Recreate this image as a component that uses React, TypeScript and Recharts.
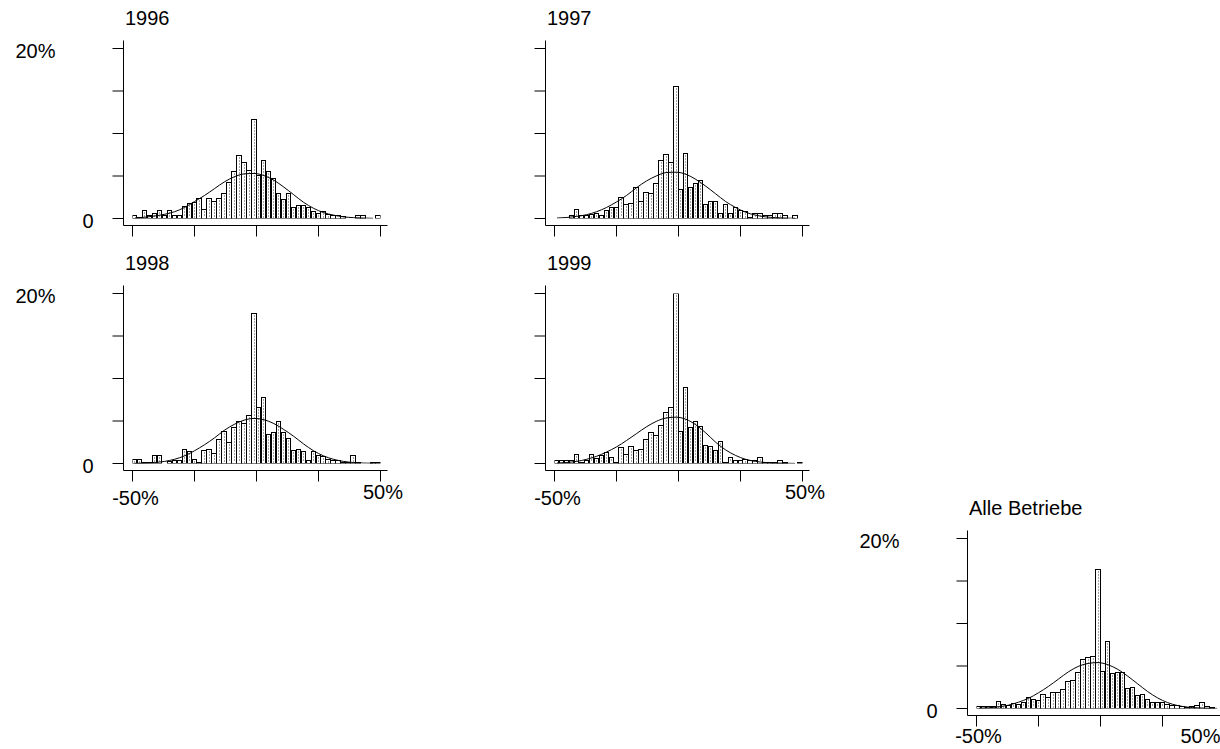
import { ComposedChart, Bar, Line, XAxis, YAxis } from 'recharts';

// centres of the 2%-wide classes between -50% and +50%
const binCenters = [
  -49, -47, -45, -43, -41, -39, -37, -35, -33, -31,
  -29, -27, -25, -23, -21, -19, -17, -15, -13, -11,
  -9, -7, -5, -3, -1, 1, 3, 5, 7, 9,
  11, 13, 15, 17, 19, 21, 23, 25, 27, 29,
  31, 33, 35, 37, 39, 41, 43, 45, 47, 49,
];

const curveX = [-49, -45, -41, -37, -33, -29, -25, -21, -17, -13, -9, -5, -1, 3, 7, 11, 15, 19, 23, 27, 31, 35, 39, 43, 47];

const xTicks = [-50, -25, 0, 25, 50];
const yTicks = [0, 5, 10, 15, 20];

// share of firms per class, in %
const share1996 = [
  0.3, 0.1, 0.9, 0.3, 0.6, 0.9, 0.4, 0.9, 0.4, 0.4,
  1.4, 1.8, 1.9, 2.4, 1.1, 2.3, 2.0, 2.3, 2.9, 4.2,
  5.5, 7.4, 6.6, 5.7, 11.7, 5.1, 6.8, 5.5, 4.7, 2.9,
  2.2, 3.0, 1.3, 1.5, 1.5, 1.3, 0.8, 0.6, 0.8, 0.5,
  0.3, 0.3, 0.2, 0, 0, 0.4, 0.4, 0, 0, 0.3,
];
const share1997 = [
  0, 0, 0, 0.4, 1.1, 0.3, 0.3, 0.45, 0.6, 0.3,
  0.9, 1.3, 1.3, 2.5, 1.6, 1.8, 3.6, 2.0, 3.1, 3.0,
  4.1, 6.8, 7.5, 6.6, 15.5, 3.4, 7.7, 3.6, 4.1, 4.5,
  1.6, 2.0, 2.0, 0.6, 1.6, 0.6, 1.3, 0.9, 0.8, 0.05,
  0.6, 0.6, 0.3, 0.3, 0.6, 0.6, 0.3, 0, 0.3, 0,
];
const share1998 = [
  0.5, 0.5, 0.1, 0.15, 0.9, 1.0, 0, 0.2, 0.4, 0.4,
  1.7, 1.4, 0.5, 0.1, 1.5, 1.7, 1.2, 2.8, 3.8, 2.5,
  4.2, 4.9, 4.7, 5.7, 17.6, 6.6, 7.8, 3.4, 3.6, 5.0,
  3.6, 2.9, 1.5, 1.7, 1.4, 0.4, 1.4, 0.9, 0.8, 0.5,
  0.3, 0.3, 0.15, 0.15, 1.0, 0.15, 0, 0, 0.15, 0.15,
];
const share1999 = [
  0.4, 0.4, 0.4, 0.4, 1.1, 0.15, 0.4, 1.1, 0.6, 0.9,
  1.3, 0.7, 0.1, 1.9, 1.1, 2.0, 1.5, 1.7, 2.8, 3.7,
  3.3, 4.5, 6.0, 6.6, 20.0, 3.8, 9.0, 4.2, 4.9, 4.3,
  2.1, 2.0, 1.5, 2.6, 0.1, 0.7, 0.4, 0.4, 0.5, 0.4,
  0.3, 0.7, 0.1, 0.05, 0.1, 0.4, 0.1, 0, 0, 0.1,
];
const shareAlle = [
  0.25, 0.25, 0.25, 0.25, 0.85, 0.5, 0.3, 0.6, 0.5, 0.7,
  1.3, 1.1, 1.0, 1.7, 1.3, 1.9, 1.9, 2.2, 3.2, 3.3,
  4.2, 5.8, 6.0, 6.1, 16.3, 4.4, 7.9, 4.1, 4.2, 4.2,
  2.4, 2.5, 1.5, 1.6, 1.1, 0.65, 0.65, 0.65, 0.5, 0.35,
  0.35, 0.2, 0.1, 0.2, 0.3, 0.65, 0.25, 0.05, 0, 0,
];

// fitted normal density, read at curveX
const curve1996 = [0.05, 0.15, 0.3, 0.5, 0.8, 1.3, 2.0, 2.7, 3.5, 4.3, 4.9, 5.25, 5.3, 5.05, 4.5, 3.7, 2.8, 1.9, 1.2, 0.7, 0.4, 0.2, 0.1, 0.05, 0.02];
const curve1997 = [0.05, 0.12, 0.25, 0.45, 0.8, 1.3, 1.95, 2.7, 3.6, 4.4, 5.0, 5.4, 5.45, 5.2, 4.6, 3.8, 2.9, 2.0, 1.3, 0.75, 0.4, 0.2, 0.1, 0.05, 0.02];
const curve1998 = [0.02, 0.05, 0.12, 0.25, 0.5, 0.9, 1.5, 2.2, 3.0, 3.9, 4.6, 5.1, 5.3, 5.15, 4.7, 4.0, 3.2, 2.3, 1.5, 0.9, 0.5, 0.25, 0.12, 0.05, 0.02];
const curve1999 = [0.05, 0.12, 0.25, 0.5, 0.85, 1.35, 1.95, 2.7, 3.5, 4.3, 4.95, 5.35, 5.45, 5.2, 4.55, 3.6, 2.5, 1.6, 0.95, 0.5, 0.25, 0.12, 0.06, 0.03, 0.01];
const curveAlle = [0.03, 0.08, 0.2, 0.4, 0.75, 1.2, 1.85, 2.6, 3.45, 4.3, 4.95, 5.3, 5.4, 5.15, 4.6, 3.8, 2.9, 2.0, 1.25, 0.7, 0.35, 0.17, 0.08, 0.03, 0.01];

const FONT = '"Liberation Sans", Arial, Helvetica, sans-serif';

// layout of the 3x3 grid (only five cells used)
const COL_AXIS_X = [123, 545, 967];
const ROW_ZERO_Y = [218, 463, 708];
const AXIS_W = 120;
const TOP = 30;
const PLOT_W = 264;
const PLOT_H = 185;
const X_AXIS_H = 45;
const CHART_W = AXIS_W + PLOT_W + 40;
const CHART_H = TOP + PLOT_H + X_AXIS_H;
const BAR_PX = (PLOT_W - 9 - 7) / binCenters.length;

type XMode = 'none' | 'row' | 'alle';

const panels: { title: string; share: number[]; curve: number[]; col: number; row: number; yLabels: boolean; xMode: XMode }[] = [
  { title: '1996', share: share1996, curve: curve1996, col: 0, row: 0, yLabels: true, xMode: 'none' },
  { title: '1997', share: share1997, curve: curve1997, col: 1, row: 0, yLabels: false, xMode: 'none' },
  { title: '1998', share: share1998, curve: curve1998, col: 0, row: 1, yLabels: true, xMode: 'row' },
  { title: '1999', share: share1999, curve: curve1999, col: 1, row: 1, yLabels: false, xMode: 'row' },
  { title: 'Alle Betriebe', share: shareAlle, curve: curveAlle, col: 2, row: 2, yLabels: true, xMode: 'alle' },
];

const textStyle = { fontFamily: FONT, fontSize: 20, fill: '#000' };

// snap to pixel centres so 1px strokes stay crisp
const snap = (v: number) => Math.round(v - 0.5) + 0.5;

const HistBar = (props: any) => {
  const { x, y, width, height } = props;
  if (!height || height <= 0) return <g />;
  const left = snap(x);
  const right = snap(x + width);
  const top = snap(y);
  const bottom = snap(y + height);
  const dx = snap(left + (right - left) * 0.6);
  return (
    <g>
      <rect
        x={left}
        y={Math.min(top, bottom - 1)}
        width={right - left}
        height={Math.max(bottom - top, 1)}
        fill="#fff"
        stroke="#000"
        strokeWidth={1}
      />
      {bottom - top > 3 && (
        <line x1={dx} x2={dx} y1={top + 2} y2={bottom - 1} stroke="#444" strokeWidth={1} strokeDasharray="1 2" />
      )}
    </g>
  );
};

const makeYTick = (show: boolean) => (props: any) => {
  const { x, y, payload } = props;
  if (!show) return <g />;
  if (payload.value === 20) {
    return (
      <text x={x - 57} y={y + 9} textAnchor="end" {...textStyle}>
        20%
      </text>
    );
  }
  if (payload.value === 0) {
    return (
      <text x={x - 19} y={y + 9} textAnchor="end" {...textStyle}>
        0
      </text>
    );
  }
  return <g />;
};

const makeXTick = (mode: XMode) => (props: any) => {
  const { x, y, payload } = props;
  if (mode === 'row') {
    if (payload.value === -50)
      return (
        <text x={x + 3} y={y + 23} textAnchor="middle" {...textStyle}>
          -50%
        </text>
      );
    if (payload.value === 50)
      return (
        <text x={x + 2.5} y={y + 17} textAnchor="middle" {...textStyle}>
          50%
        </text>
      );
  }
  if (mode === 'alle') {
    if (payload.value === -50)
      return (
        <text x={x + 2} y={y + 16} textAnchor="middle" {...textStyle}>
          -50%
        </text>
      );
    if (payload.value === 50)
      return (
        <text x={x - 4} y={y + 16} textAnchor="end" {...textStyle}>
          50%
        </text>
      );
  }
  return <g />;
};

const Panel = ({ share, curve, yLabels, xMode }: { share: number[]; curve: number[]; yLabels: boolean; xMode: XMode }) => {
  const rows = binCenters.map((x, i) => {
    const j = curveX.indexOf(x);
    return { x, share: share[i], curve: j >= 0 ? curve[j] : null };
  });
  return (
    <ComposedChart
      width={CHART_W}
      height={CHART_H}
      data={rows}
      margin={{ top: TOP + 0.5, right: CHART_W - AXIS_W - PLOT_W - 0.5, bottom: -0.5, left: 0.5 }}
      barCategoryGap={0}
      barGap={0}
    >
      <XAxis
        dataKey="x"
        type="number"
        domain={[-50, 50]}
        ticks={xTicks}
        interval={0}
        padding={{ left: 9, right: 7 }}
        height={X_AXIS_H}
        tickSize={11}
        tickMargin={0}
        axisLine={{ stroke: '#000', strokeWidth: 1 }}
        tickLine={{ stroke: '#000', strokeWidth: 1 }}
        tick={makeXTick(xMode)}
        allowDataOverflow
      />
      <YAxis
        type="number"
        domain={[0, 20]}
        ticks={yTicks}
        interval={0}
        padding={{ top: 8, bottom: 7 }}
        width={AXIS_W}
        tickSize={11}
        tickMargin={0}
        axisLine={{ stroke: '#000', strokeWidth: 1 }}
        tickLine={{ stroke: '#000', strokeWidth: 1 }}
        tick={makeYTick(yLabels)}
        allowDataOverflow
      />
      <Bar dataKey="share" barSize={BAR_PX} shape={HistBar} isAnimationActive={false} />
      <Line
        dataKey="curve"
        type="monotone"
        stroke="#000"
        strokeWidth={1}
        dot={false}
        activeDot={false}
        connectNulls
        isAnimationActive={false}
      />
    </ComposedChart>
  );
};

export default function App() {
  return (
    <div
      style={{
        position: 'fixed',
        left: 0,
        top: 0,
        width: 1220,
        height: 749,
        overflow: 'hidden',
        background: '#fff',
      }}
    >
      {panels.map((p) => (
        <div
          key={p.title}
          style={{
            position: 'absolute',
            left: COL_AXIS_X[p.col] - AXIS_W,
            top: ROW_ZERO_Y[p.row] - 178 - TOP,
          }}
        >
          <Panel share={p.share} curve={p.curve} yLabels={p.yLabels} xMode={p.xMode} />
        </div>
      ))}
      <svg width={1220} height={749} style={{ position: 'absolute', left: 0, top: 0, pointerEvents: 'none' }}>
        {panels.map((p) => (
          <text key={p.title} x={COL_AXIS_X[p.col] + 2} y={ROW_ZERO_Y[p.row] - 193} {...textStyle}>
            {p.title}
          </text>
        ))}
      </svg>
    </div>
  );
}
